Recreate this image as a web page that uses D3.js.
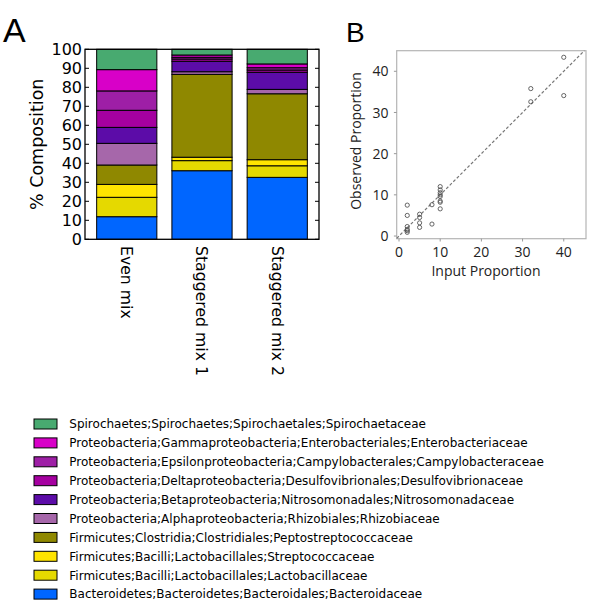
<!DOCTYPE html>
<html>
<head>
<meta charset="utf-8">
<script src="https://cdn.jsdelivr.net/npm/d3@7"></script>
<style>
  body { margin: 0; background: #fff; }
  svg { display: block; }
</style>
</head>
<body>
<svg id="fig" width="600" height="615"></svg>
<script>
// panel A data: stacked from bottom (Bacteroidaceae) to top (Spirochaetaceae)
var mixes = ["Even mix", "Staggered mix 1", "Staggered mix 2"];
var taxa = [
  "Bacteroidetes;Bacteroidetes;Bacteroidales;Bacteroidaceae",
  "Firmicutes;Bacilli;Lactobacillales;Lactobacillaceae",
  "Firmicutes;Bacilli;Lactobacillales;Streptococcaceae",
  "Firmicutes;Clostridia;Clostridiales;Peptostreptococcaceae",
  "Proteobacteria;Alphaproteobacteria;Rhizobiales;Rhizobiaceae",
  "Proteobacteria;Betaproteobacteria;Nitrosomonadales;Nitrosomonadaceae",
  "Proteobacteria;Deltaproteobacteria;Desulfovibrionales;Desulfovibrionaceae",
  "Proteobacteria;Epsilonproteobacteria;Campylobacterales;Campylobacteraceae",
  "Proteobacteria;Gammaproteobacteria;Enterobacteriales;Enterobacteriaceae",
  "Spirochaetes;Spirochaetes;Spirochaetales;Spirochaetaceae"
];
var taxaColors = ["#0066ff", "#e5d900", "#ffe400", "#8f8800", "#a667aa",
                  "#5c0ca8", "#a500a0", "#9e1fa6", "#d800c8", "#48aa70"];
var evenMix = [11.9, 10.2, 6.8, 10.2, 11.4, 8.4, 9.0, 10.2, 11.2, 10.7];
var staggeredMix1 = [36.1, 5.3, 1.8, 43.6, 1.4, 5.5, 1.2, 0.9, 1.2, 3.0];
var staggeredMix2 = [32.6, 6.1, 3.2, 34.7, 2.3, 9.0, 1.2, 1.2, 2.0, 7.7];
var yTicksA = [0, 10, 20, 30, 40, 50, 60, 70, 80, 90, 100];

// panel B data
var inputProportion = [2, 2, 2, 2, 2, 2, 5, 5, 5, 5, 8, 8,
                       10, 10, 10, 10, 10, 10, 10, 10, 32, 32, 40, 40];
var observedProportion = [7.5, 5.0, 2.3, 1.6, 1.3, 0.9, 5.3, 4.5, 3.2, 2.1, 7.6, 2.9,
                          12.0, 11.2, 10.5, 10.0, 9.6, 8.5, 8.2, 6.6, 35.8, 32.6, 43.4, 34.1];
var ticksB = [0, 10, 20, 30, 40];

var svg = d3.select("#fig");
var fontA = "DejaVu Sans, sans-serif";
var fontB = "Open Sans, sans-serif";
var fontLetter = "Liberation Sans, Arial, sans-serif";

// ---------- panel A ----------
var mixValues = [evenMix, staggeredMix1, staggeredMix2];
var table = mixes.map(function(m, i) {
  var row = {mix: m};
  taxa.forEach(function(t, j) { row[t] = mixValues[i][j]; });
  return row;
});
var stacked = d3.stack().keys(taxa)(table);

var xA = d3.scaleBand().domain(mixes).range([85, 319]).paddingInner(0.2).paddingOuter(0.155);
var yA = d3.scaleLinear().domain([0, 100]).range([239.3, 49.3]);

var gA = svg.append("g");

gA.selectAll("g.layer")
  .data(stacked)
  .enter().append("g")
    .attr("class", "layer")
    .attr("fill", function(d, i) { return taxaColors[i]; })
  .selectAll("rect")
  .data(function(d) { return d; })
  .enter().append("rect")
    .attr("x", function(d) { return xA(d.data.mix); })
    .attr("width", xA.bandwidth())
    .attr("y", function(d) { return yA(d[1]); })
    .attr("height", function(d) { return yA(d[0]) - yA(d[1]); })
    .attr("stroke", "#000")
    .attr("stroke-width", 1);

// frame + inward ticks on both sides
gA.append("rect")
  .attr("x", 85).attr("y", yA(100))
  .attr("width", 319 - 85).attr("height", yA(0) - yA(100))
  .attr("fill", "none").attr("stroke", "#000").attr("stroke-width", 1.3);

gA.selectAll("line.tl").data(yTicksA).enter().append("line")
  .attr("x1", 85).attr("x2", 89)
  .attr("y1", function(d) { return yA(d); }).attr("y2", function(d) { return yA(d); })
  .attr("stroke", "#000");
gA.selectAll("line.tr").data(yTicksA).enter().append("line")
  .attr("x1", 315).attr("x2", 319)
  .attr("y1", function(d) { return yA(d); }).attr("y2", function(d) { return yA(d); })
  .attr("stroke", "#000");

gA.selectAll("text.yt").data(yTicksA).enter().append("text")
  .attr("x", 82).attr("y", function(d) { return yA(d); })
  .attr("dy", "0.36em")
  .attr("text-anchor", "end")
  .style("font-family", fontA).style("font-size", "16px")
  .text(function(d) { return d; });

gA.selectAll("text.xt").data(mixes).enter().append("text")
  .attr("transform", function(d) {
    return "translate(" + (xA(d) + xA.bandwidth() / 2) + ",246) rotate(90)";
  })
  .attr("dy", "0.36em")
  .attr("text-anchor", "start")
  .style("font-family", fontA).style("font-size", "15.7px")
  .text(function(d) { return d; });

gA.append("text")
  .attr("transform", "translate(43," + yA(50) + ") rotate(-90)")
  .attr("text-anchor", "middle")
  .style("font-family", fontA).style("font-size", "17.5px")
  .text("% Composition");

svg.append("text")
  .attr("x", 3).attr("y", 42)
  .style("font-family", fontLetter).style("font-size", "34px")
  .text("A");

// ---------- panel B ----------
var xB = d3.scaleLinear().domain([-0.56, 45.4]).range([396.7, 586]);
var yB = d3.scaleLinear().domain([-0.65, 45.0]).range([238.7, 50.7]);
var gB = svg.append("g");

gB.append("rect")
  .attr("x", 396.7).attr("y", 50.7)
  .attr("width", 586 - 396.7).attr("height", 238.7 - 50.7)
  .attr("fill", "none").attr("stroke", "#b4b4b4").attr("stroke-width", 1.2);

gB.append("line")
  .attr("x1", xB(-0.56)).attr("y1", yB(-0.56))
  .attr("x2", xB(45.0)).attr("y2", yB(45.0))
  .attr("stroke", "#777").attr("stroke-width", 1.2)
  .attr("stroke-dasharray", "3,2");

gB.selectAll("circle").data(inputProportion).enter().append("circle")
  .attr("cx", function(d) { return xB(d); })
  .attr("cy", function(d, i) { return yB(observedProportion[i]); })
  .attr("r", 2.1)
  .attr("fill", "none").attr("stroke", "#555").attr("stroke-width", 0.9);

gB.selectAll("line.bx").data(ticksB).enter().append("line")
  .attr("x1", function(d) { return xB(d); }).attr("x2", function(d) { return xB(d); })
  .attr("y1", 238.7).attr("y2", 241.5)
  .attr("stroke", "#999");
gB.selectAll("line.by").data(ticksB).enter().append("line")
  .attr("x1", 393.9).attr("x2", 396.7)
  .attr("y1", function(d) { return yB(d); }).attr("y2", function(d) { return yB(d); })
  .attr("stroke", "#999");

gB.selectAll("text.bx").data(ticksB).enter().append("text")
  .attr("x", function(d) { return xB(d); }).attr("y", 256.5)
  .attr("text-anchor", "middle")
  .style("font-family", fontB).style("font-size", "14px").style("fill", "#222")
  .text(function(d) { return d; });
gB.selectAll("text.by").data(ticksB).enter().append("text")
  .attr("x", 388.5).attr("y", function(d) { return yB(d); })
  .attr("dy", "0.36em")
  .attr("text-anchor", "end")
  .style("font-family", fontB).style("font-size", "14px").style("fill", "#222")
  .text(function(d) { return d; });

gB.append("text")
  .attr("x", 486).attr("y", 276)
  .attr("text-anchor", "middle")
  .style("font-family", fontB).style("font-size", "14px").style("fill", "#222")
  .text("Input Proportion");
gB.append("text")
  .attr("transform", "translate(361,141) rotate(-90)")
  .attr("text-anchor", "middle")
  .style("font-family", fontB).style("font-size", "14px").style("fill", "#222")
  .text("Observed Proportion");

svg.append("text")
  .attr("x", 346).attr("y", 42)
  .style("font-family", fontLetter).style("font-size", "28px")
  .text("B");

// ---------- legend (top entry = top of stack) ----------
var legendOrder = taxa.map(function(t, i) { return i; }).reverse();
var leg = svg.append("g").selectAll("g").data(legendOrder).enter().append("g")
  .attr("transform", function(d, k) { return "translate(34," + (424 + k * 18.9) + ")"; });
leg.append("rect")
  .attr("x", 0).attr("y", -5).attr("width", 23).attr("height", 10)
  .attr("fill", function(d) { return taxaColors[d]; })
  .attr("stroke", "#000").attr("stroke-width", 1);
leg.append("text")
  .attr("x", 35.3).attr("dy", "0.36em")
  .style("font-family", fontA).style("font-size", "12px")
  .text(function(d) { return taxa[d]; });
</script>
</body>
</html>
